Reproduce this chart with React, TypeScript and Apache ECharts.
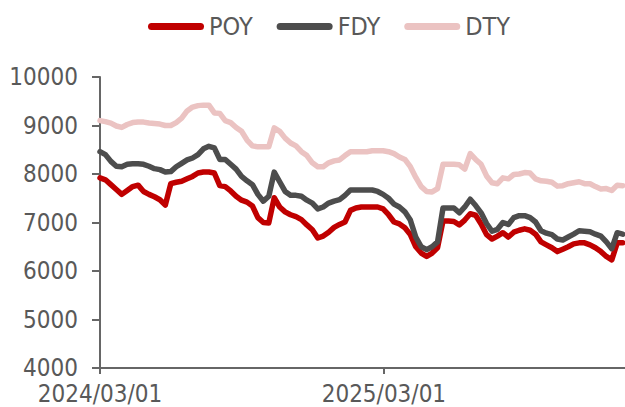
import React, { useEffect, useRef } from "react";
import * as echarts from "echarts";

// Weekly observations starting 2024/03/01
const startDate = "2024/03/01";
const endDate = "2026/01/05";
const xTickLabels = ["2024/03/01", "2025/03/01"];
const yTicks = [4000, 5000, 6000, 7000, 8000, 9000, 10000];

const poy = [
  7920, 7880, 7780, 7680, 7580, 7660, 7740, 7770, 7640, 7580,
  7530, 7470, 7360, 7800, 7830, 7850, 7900, 7950, 8020, 8040,
  8040, 8020, 7760, 7740, 7650, 7540, 7460, 7420, 7340, 7100,
  7000, 6990, 7510, 7320, 7220, 7160, 7120, 7060, 6950, 6850,
  6680, 6720, 6800, 6900, 6960, 7010, 7250, 7300, 7320, 7320,
  7320, 7320, 7280, 7160, 7010, 6970, 6890, 6750, 6500, 6370,
  6300, 6370, 6480, 7030, 7030, 7020, 6950, 7050, 7180, 7150,
  6970, 6750, 6660, 6720, 6790, 6700, 6800, 6840, 6870, 6840,
  6760, 6600, 6540, 6480, 6400, 6450, 6500, 6560, 6580, 6580,
  6540, 6480, 6400, 6300, 6230, 6580, 6580,
];

const fdy = [
  8460, 8400, 8260, 8160, 8150, 8200, 8210, 8210, 8200, 8160,
  8110, 8090, 8040, 8050, 8150, 8220, 8290, 8330, 8400, 8520,
  8570, 8540, 8300, 8300, 8200, 8100, 7950, 7860, 7780, 7580,
  7440, 7540, 8040, 7840, 7640, 7560, 7560, 7540, 7460, 7400,
  7280, 7320, 7400, 7440, 7470, 7560, 7670, 7670, 7670, 7670,
  7670, 7640, 7580, 7500, 7380, 7320, 7220, 7050, 6700, 6500,
  6440, 6500, 6600, 7300, 7300, 7300, 7200, 7320, 7480, 7350,
  7200, 6980, 6820, 6860, 7000, 6960, 7100, 7140, 7140, 7100,
  7010, 6830, 6780, 6750, 6660, 6640, 6700, 6760, 6830, 6820,
  6810, 6760, 6720, 6600, 6460, 6790, 6760,
];

const dty = [
  9100, 9080, 9050, 8990, 8960, 9020, 9060, 9070, 9070, 9050,
  9040, 9030, 9000, 9000, 9060, 9150, 9300, 9380, 9410, 9420,
  9420, 9260, 9250, 9100, 9060, 8960, 8880, 8700, 8580, 8560,
  8560, 8560, 8950, 8880, 8740, 8640, 8580, 8460, 8380, 8230,
  8150, 8150, 8230, 8270, 8290, 8380, 8460, 8460, 8460, 8460,
  8480, 8480, 8480, 8460, 8420, 8350, 8300, 8150, 7930, 7740,
  7640, 7630, 7700, 8200, 8200, 8200, 8190, 8100, 8420, 8300,
  8200, 7960, 7820, 7800, 7920, 7900, 7990, 8000, 8030, 8020,
  7900, 7860, 7850, 7830, 7750, 7760, 7800, 7820, 7840, 7800,
  7800, 7740, 7690, 7700, 7660, 7770, 7760,
];

const seriesNames = ["POY", "FDY", "DTY"];
const seriesColors = ["#C00000", "#4D4D4D", "#EBC3C2"];

const DAY = 86400000;
const toTs = (s: string) => {
  const [y, m, d] = s.split("/").map(Number);
  return Date.UTC(y, m - 1, d);
};
const pad = (n: number) => (n < 10 ? "0" + n : "" + n);
const fmt = (t: number) => {
  const d = new Date(t);
  return `${d.getUTCFullYear()}/${pad(d.getUTCMonth() + 1)}/${pad(d.getUTCDate())}`;
};

const FONT = "'DejaVu Sans Condensed', 'Liberation Sans Narrow', 'Roboto', sans-serif";

export default function App() {
  const ref = useRef<HTMLDivElement>(null);
  useEffect(() => {
    if (!ref.current) return;
    const chart = echarts.init(ref.current, undefined, { renderer: "svg" });
    const start = toTs(startDate);
    const dates = poy.map((_, i) => start + i * 7 * DAY);
    const values = [poy, fdy, dty];
    const tickTs = xTickLabels.map(toTs);
    chart.setOption({
      animation: false,
      legend: {
        top: 9,
        left: 143,
        itemWidth: 56,
        itemHeight: 7,
        itemGap: 24,
        icon: "path://M3.5,0 L52.5,0 A3.5,3.5 0 0 1 52.5,7 L3.5,7 A3.5,3.5 0 0 1 3.5,0 Z",
        textStyle: { fontFamily: FONT, fontSize: 25, color: "#595959" },
        data: seriesNames,
      },
      grid: { left: 100, right: 0, top: 77, bottom: 39, containLabel: false, outerBoundsMode: "none" },
      xAxis: {
        type: "value",
        min: start,
        max: toTs(endDate),
        splitLine: { show: false },
        axisLine: { lineStyle: { color: "#666666", width: 2 } },
        axisTick: {
          show: true,
          customValues: tickTs,
          length: 6,
          lineStyle: { color: "#666666", width: 2 },
        },
        axisLabel: {
          customValues: tickTs,
          formatter: (v: number) => fmt(v),
          fontFamily: FONT,
          fontSize: 24,
          lineHeight: 23,
          color: "#595959",
          margin: 14,
          hideOverlap: false,
        },
      },
      yAxis: {
        type: "value",
        min: yTicks[0],
        max: yTicks[yTicks.length - 1],
        interval: 1000,
        splitLine: { show: false },
        axisLine: { show: true, lineStyle: { color: "#666666", width: 2 } },
        axisTick: { show: true, length: 8, lineStyle: { color: "#666666", width: 2 } },
        axisLabel: {
          formatter: (v: number) => String(v),
          fontFamily: FONT,
          fontSize: 24,
          lineHeight: 22,
          color: "#595959",
          margin: 22,
        },
      },
      series: seriesNames.map((name, k) => ({
        name,
        type: "line",
        data: dates.map((d, i) => [d, values[k][i]]),
        symbol: "none",
        showSymbol: false,
        color: seriesColors[k],
        lineStyle: { color: seriesColors[k], width: 5.5, cap: "round", join: "round" },
        z: 2,
      })),
    });
    return () => chart.dispose();
  }, []);
  return (
    <div
      ref={ref}
      style={{ position: "absolute", left: 0, top: 0, width: 625, height: 407, background: "#fff" }}
    />
  );
}
